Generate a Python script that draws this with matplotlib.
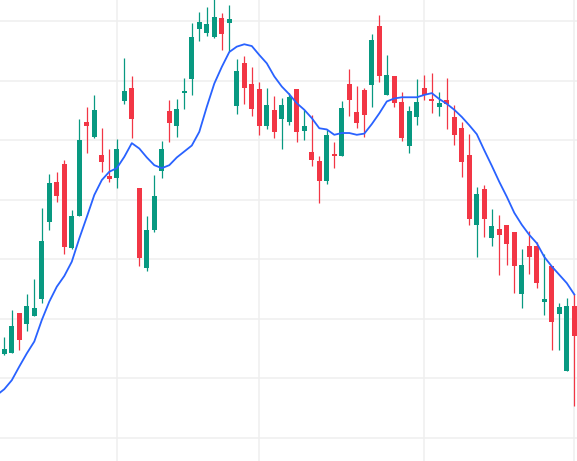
import matplotlib
matplotlib.use("Agg")
import matplotlib.pyplot as plt
import numpy as np

# daily candles, oldest first (price units; grid every 10)
opens = [114.1, 114.3, 121.0, 119.2, 120.5, 123.4, 136.3, 143.0, 146.0, 131.9,
         137.3, 153.0, 150.6, 147.5, 144.0, 143.7, 156.6, 158.8, 142.0, 128.6,
         135.0, 144.9, 154.9, 152.4, 158.0, 160.3, 168.6, 168.0, 167.4, 170.5,
         169.6, 155.8, 163.0, 159.4, 158.6, 152.3, 155.1, 153.6, 153.1, 158.6,
         151.6, 148.0, 146.5, 143.2, 147.5, 147.4, 159.4, 154.7, 158.4, 159.3,
         169.2, 157.6, 160.8, 156.4, 149.1, 153.9, 158.8, 156.9, 155.5, 156.7,
         153.9, 152.0, 147.5, 135.8, 141.8, 133.6, 135.1, 135.8, 134.6, 124.2,
         132.2, 132.2, 122.9, 128.8, 120.9, 111.3, 122.2]
highs = [117.0, 121.5, 121.0, 124.1, 126.7, 138.6, 144.4, 144.7, 146.7, 138.3,
         153.6, 155.6, 157.6, 152.0, 148.5, 150.2, 163.8, 160.8, 142.0, 137.3,
         144.2, 149.9, 156.7, 156.9, 160.4, 169.7, 171.5, 172.4, 173.8, 171.3,
         172.7, 163.6, 164.1, 162.3, 159.8, 158.8, 157.4, 157.1, 157.9, 158.6,
         155.1, 154.2, 147.3, 151.7, 149.7, 156.6, 161.9, 159.1, 158.8, 167.9,
         171.0, 164.3, 160.8, 158.1, 155.7, 160.3, 160.9, 161.3, 158.1, 160.4,
         155.9, 153.0, 151.1, 142.1, 142.5, 138.4, 137.4, 135.8, 134.6, 131.8,
         134.8, 132.9, 130.9, 128.8, 122.7, 123.5, 124.2]
lows = [113.9, 114.2, 114.8, 118.0, 120.5, 122.7, 135.0, 139.7, 130.9, 131.8,
        137.3, 147.9, 150.4, 144.7, 143.0, 141.9, 156.0, 150.3, 128.9, 128.1,
        134.5, 143.7, 149.7, 150.6, 155.3, 157.6, 166.7, 167.5, 167.2, 165.2,
        164.9, 154.4, 156.0, 154.1, 150.8, 151.8, 150.4, 148.6, 152.6, 149.7,
        150.1, 145.6, 139.5, 142.7, 145.4, 147.4, 154.1, 152.1, 150.6, 155.5,
        159.8, 157.6, 155.5, 149.9, 147.9, 152.6, 156.8, 154.6, 154.1, 151.9,
        149.2, 143.9, 135.8, 130.4, 133.8, 132.3, 127.3, 129.1, 124.4, 121.9,
        127.6, 125.1, 120.7, 114.8, 114.8, 111.3, 105.4]
closes = [114.9, 118.8, 116.5, 122.2, 121.8, 133.1, 142.8, 140.6, 132.0, 137.3,
          150.0, 152.4, 155.1, 146.4, 143.5, 148.5, 158.3, 153.6, 130.3, 134.9,
          140.6, 148.5, 152.8, 155.2, 158.1, 167.3, 169.8, 169.5, 170.7, 167.9,
          170.3, 161.6, 158.8, 155.3, 152.3, 155.9, 151.4, 155.9, 157.2, 151.4,
          152.4, 146.6, 143.2, 150.9, 147.4, 155.4, 156.8, 152.9, 154.3, 166.8,
          160.7, 160.9, 156.3, 150.3, 154.9, 156.4, 157.5, 156.5, 156.2, 156.1,
          150.9, 146.4, 136.7, 141.0, 136.7, 135.6, 134.0, 132.5, 128.9, 129.0,
          130.4, 126.1, 123.3, 119.4, 122.0, 122.2, 117.2]

# moving average, starts one bar before the first visible candle
ma = [107.2, 108.2, 109.7, 112.0, 114.2, 116.2, 119.8, 122.9, 125.4, 127.2, 129.6,
      133.5, 137.1, 140.8, 143.3, 144.7, 145.3, 147.2, 149.5, 148.6, 147.1,
      145.8, 145.3, 145.8, 147.1, 148.1, 149.1, 151.4, 155.6, 159.5, 162.3,
      164.8, 165.7, 166.1, 165.8, 164.3, 162.9, 160.7, 159.0, 157.7, 156.2,
      155.1, 153.7, 152.0, 151.8, 150.9, 151.2, 151.2, 150.9, 151.1, 152.7,
      154.5, 156.5, 157.0, 157.2, 157.2, 157.2, 157.6, 157.9, 156.9, 156.1,
      155.1, 153.9, 152.5, 151.0, 148.3, 145.7, 143.0, 140.5, 137.8, 135.8,
      134.1, 132.7, 130.4, 128.8, 127.4, 126.0, 124.1]

# bar index where each new month starts
month_starts = [15, 34, 56, 76]
price_grid = [100, 110, 120, 130, 140, 150, 160, 170]

UP = "#089981"
DOWN = "#F23645"
GRID = "#EFEFEF"

o = np.array(opens)
h = np.array(highs)
l = np.array(lows)
c = np.array(closes)
x = np.arange(len(o))
up = c >= o
colors = np.where(up, UP, DOWN)

fig = plt.figure(figsize=(5.77, 4.61), dpi=100)
ax = fig.add_axes([0, 0, 1, 1])

for gx in month_starts:
    ax.axvline(gx, color=GRID, lw=1.1, zorder=0)
for gy in price_grid:
    ax.axhline(gy, color=GRID, lw=1.1, zorder=0)

ax.vlines(x, l, h, colors=colors, lw=0.9, zorder=2)
body = np.maximum(np.abs(c - o), 0.2)
ax.bar(x, body, bottom=np.minimum(o, c), width=0.66, color=colors,
       linewidth=0, zorder=3)

ax.plot(np.arange(-1, len(ma) - 1), ma, color="#2962FF", lw=1.3, zorder=4)

ax.set_xlim(-0.573, 76.36)
ax.set_ylim(96.14, 173.53)
ax.axis("off")

fig.savefig("out.png", dpi=100, facecolor="white")
